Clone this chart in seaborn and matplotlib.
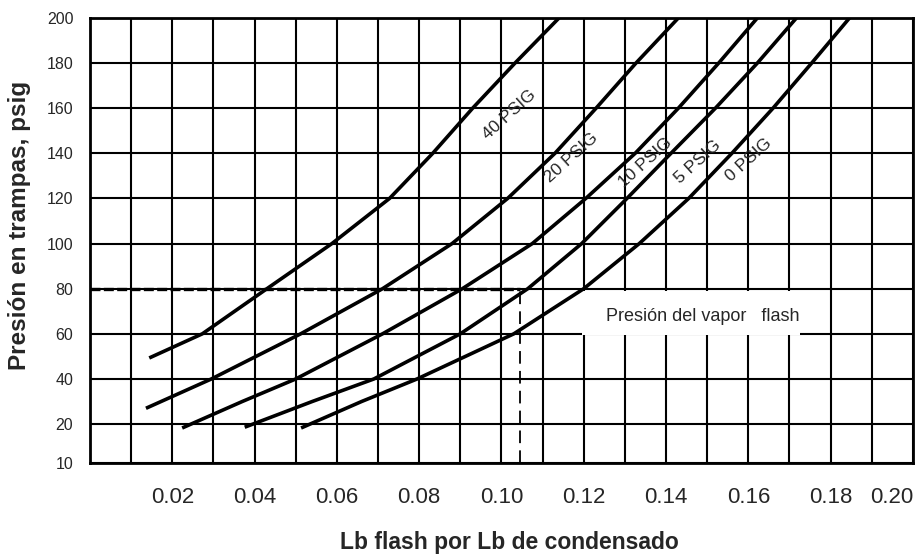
import numpy as np
import pandas as pd
import seaborn as sns
import matplotlib.pyplot as plt
from matplotlib.patches import Rectangle

# readings from the chart: pressure at trap (psig) vs lb flash per lb condensate
p40_x = [0.0144, 0.0273, 0.0430, 0.0588, 0.0728, 0.0833, 0.0930, 0.1033, 0.1140]
p40_y = [49.3, 60, 80, 100, 120, 140, 160, 180, 200]

p20_x = [0.0136, 0.0295, 0.0512, 0.0711, 0.0880, 0.1015, 0.1130, 0.1230, 0.1327, 0.1430]
p20_y = [27.0, 40, 60, 80, 100, 120, 140, 160, 180, 200]

p10_x = [0.0224, 0.0370, 0.0500, 0.0711, 0.0905, 0.1075, 0.1205, 0.1325, 0.1430, 0.1528, 0.1622]
p10_y = [19.0, 30, 40, 60, 80, 100, 120, 140, 160, 180, 200]

p5_x = [0.0376, 0.0540, 0.0690, 0.0900, 0.1064, 0.1195, 0.1305, 0.1412, 0.1520, 0.1622, 0.1717]
p5_y = [19.2, 30, 40, 60, 80, 100, 120, 140, 160, 180, 200]

p0_x = [0.0513, 0.0660, 0.0795, 0.1030, 0.1200, 0.1335, 0.1455, 0.1560, 0.1660, 0.1754, 0.1846]
p0_y = [19.0, 30, 40, 60, 80, 100, 120, 140, 160, 180, 200]

curve_names = ["40 PSIG", "20 PSIG", "10 PSIG", "5 PSIG", "0 PSIG"]
label_x = [0.1020, 0.1170, 0.1350, 0.1478, 0.1600]
label_y = [157, 138, 136, 136, 137]

x_ticks = [0.02, 0.04, 0.06, 0.08, 0.10, 0.12, 0.14, 0.16, 0.18, 0.20]
y_ticks = [10, 20, 40, 60, 80, 100, 120, 140, 160, 180, 200]

example_p = 80
example_x = 0.1045

frames = []
for name, xs, ys in zip(curve_names, [p40_x, p20_x, p10_x, p5_x, p0_x],
                        [p40_y, p20_y, p10_y, p5_y, p0_y]):
    frames.append(pd.DataFrame({"flash": xs, "psig": ys, "curve": name}))
df = pd.concat(frames, ignore_index=True)

sns.set_theme(style="white")
plt.rcParams['font.family'] = ['Liberation Sans Narrow', 'Liberation Sans', 'DejaVu Sans']

fig = plt.figure(figsize=(9.24, 5.6), dpi=100)
ax = fig.add_axes([0.0974, 0.173, 0.8906, 0.795])

for name in curve_names:
    sns.lineplot(data=df[df["curve"] == name], x="flash", y="psig", sort=False,
                 estimator=None, color="black", lw=2.6, ax=ax, zorder=5,
                 solid_capstyle="butt", solid_joinstyle="round")

# bottom part of the scale (10-20) is stretched on the original chart
def fwd(y):
    y = np.asarray(y, dtype=float)
    return np.where(y >= 20, y, 20 - (20 - y) * 1.73)

def inv(v):
    v = np.asarray(v, dtype=float)
    return np.where(v >= 20, v, 20 - (20 - v) / 1.73)

ax.set_yscale("function", functions=(fwd, inv))
ax.set_xlim(0, 0.20)
ax.set_ylim(10, 200)

ax.set_xticks(x_ticks)
ax.set_xticklabels([f"{t:.2f}" for t in x_ticks])
ax.get_xticklabels()[-1].set_horizontalalignment("right")
ax.set_xticks(np.arange(0.01, 0.20, 0.02), minor=True)
ax.set_yticks(y_ticks)
ax.set_yticklabels([str(t) for t in y_ticks])
ax.yaxis.set_minor_locator(plt.NullLocator())
ax.grid(True, which="both", color="black", lw=1.5)
ax.tick_params(axis="x", which="both", length=0, pad=17, labelsize=16)
ax.tick_params(axis="y", which="both", length=0, pad=12, labelsize=11.5)
for s in ax.spines.values():
    s.set_color("black")
    s.set_linewidth(2.0)

# white box behind the note
ax.add_patch(Rectangle((0.1195, 59.5), 0.1725 - 0.1195, 19.5, facecolor="white",
                       edgecolor="none", zorder=3))
ax.text(0.1490, 67.5, "Presión del vapor   flash", ha="center", va="center",
        fontsize=13, zorder=4)

# worked example: 80 psig trap
ax.plot([0, example_x], [example_p, example_p], color="black", lw=2.4,
        dashes=(3, 1), zorder=4)
ax.plot([example_x, example_x], [10, example_p], color="black", lw=1.3,
        dashes=(7, 4), zorder=4)

for name, lx, ly in zip(curve_names, label_x, label_y):
    ax.text(lx, ly, name, rotation=42, ha="center", va="center",
            fontsize=12.5, zorder=6)

ax.set_xlabel("Lb flash por Lb de condensado", fontsize=16.5, fontweight="bold",
              family=["Liberation Sans", "DejaVu Sans"])
ax.xaxis.set_label_coords(0.51, -0.152)
ax.set_ylabel("Presión en trampas, psig", fontsize=17.5, fontweight="bold",
              family=["Liberation Sans", "DejaVu Sans"])
ax.yaxis.set_label_coords(-0.072, 0.535)

fig.savefig("out.png", dpi=100)
